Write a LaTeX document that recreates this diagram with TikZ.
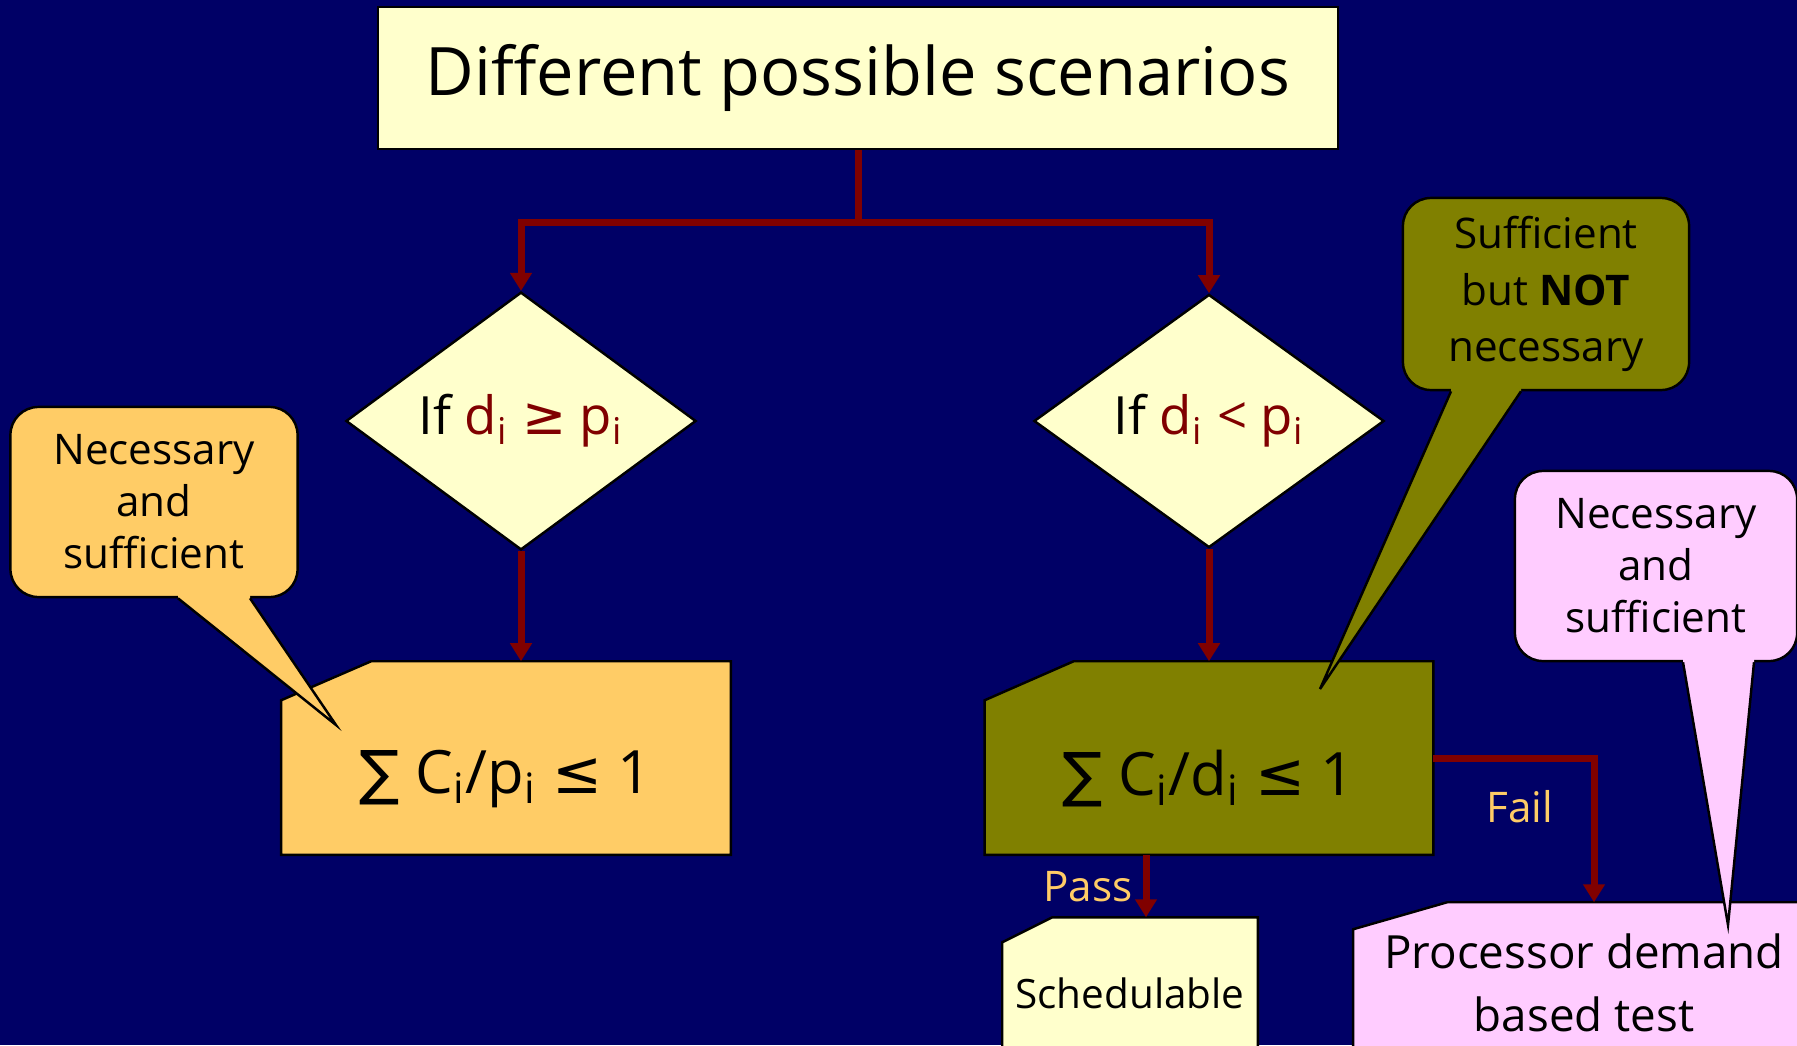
\documentclass[tikz,border=0pt]{standalone}
\usepackage{fontspec}
\setmainfont{Open Sans}
\newfontfamily\symfont{DejaVu Sans}
\usetikzlibrary{shapes.geometric, positioning, calc, arrows.meta}
\definecolor{navy}{HTML}{000066}
\definecolor{darkred}{HTML}{800000}
\definecolor{paleyellow}{HTML}{FFFFCC}
\definecolor{boxorange}{HTML}{FFCC66}
\definecolor{boxolive}{HTML}{808000}
\definecolor{boxpink}{HTML}{FFCCFF}
\newcommand{\subi}{\textsubscript{i}}

\begin{document}
\begin{tikzpicture}[x=0.01cm, y=-0.01cm,
  box/.style={draw, line width=0.7pt, fill=paleyellow, inner sep=0pt},
  slot/.style={inner sep=0pt},
  decision/.style={diamond, draw, line width=0.7pt, fill=paleyellow, inner sep=0pt, minimum width=3.5cm, minimum height=2.53cm, font=\fontsize{15}{18}\selectfont},
  note/.style={draw, line width=0.7pt, rounded corners=0.28cm, inner sep=0pt, minimum width=2.87cm, minimum height=1.9cm, align=center, font=\fontsize{12}{14.8}\selectfont},
  formula/.style={font=\fontsize{17}{20}\selectfont},
  flow/.style={draw=darkred, line width=0.07cm, -{Triangle[length=0.18cm, width=0.21cm]}},
  tag/.style={text=boxorange, font=\fontsize{12}{14}\selectfont}]
  \fill[navy] (0,0) rectangle (1797,1045);
  \useasboundingbox (0,0) rectangle (1797,1045);
  \clip (0,0) rectangle (1797,1045);
  % level 0
  \node[box, minimum width=9.59cm, minimum height=1.42cm, font=\fontsize{19}{23}\selectfont] (title) at (858,78) {Different possible scenarios};
  % level 1
  \node[decision] (ldia) at (521,421) {If \textcolor{darkred}{d\subi\ {\symfont ≥} p\subi}};
  \node[decision] (rdia) at (1209,421) {If \textcolor{darkred}{d\subi\ < p\subi}};
  \draw[flow] (title.south) -- ++(0,72) -| (ldia.north);
  \draw[flow] (title.south) -- ++(0,72) -| (rdia.north);
  % level 2
  \node[slot, minimum width=4.48cm, minimum height=1.92cm] (lsum) at (506,758) {};
  \filldraw[fill=boxorange, line width=0.7pt] (lsum.south west) -- ($(lsum.north west)+(0,39)$) -- ($(lsum.north west)+(90,0)$) -- (lsum.north east) -- (lsum.south east) -- cycle;
  \node[formula] (lsumtxt) at ($(lsum.center)+(0,21)$) {{\symfont ∑} C\subi/p\subi\ {\symfont ≤} 1};
  \node[slot, minimum width=4.47cm, minimum height=1.92cm] (rsum) at (1209,758) {};
  \filldraw[fill=boxolive, line width=0.7pt] (rsum.south west) -- ($(rsum.north west)+(0,39)$) -- ($(rsum.north west)+(89,0)$) -- (rsum.north east) -- (rsum.south east) -- cycle;
  \node[formula] (rsumtxt) at ($(rsum.center)+(0,21)$) {{\symfont ∑} C\subi/d\subi\ {\symfont ≤} 1};
  \draw[flow] (ldia.south) -- (ldia.south |- lsum.north);
  \draw[flow] (rdia.south) -- (rdia.south |- rsum.north);
  % level 3
  \node[slot, minimum width=2.54cm, minimum height=1.5cm] (sched) at (1130,993) {};
  \filldraw[fill=paleyellow, line width=0.7pt] (sched.south west) -- ($(sched.north west)+(0,25)$) -- ($(sched.north west)+(50,0)$) -- (sched.north east) -- (sched.south east) -- cycle;
  \node[font=\fontsize{11.5}{14}\selectfont] (schedtxt) at (sched.center) {Schedulable};
  \node[slot, minimum width=4.8cm, minimum height=1.7cm] (proc) at (1594,988) {};
  \filldraw[fill=boxpink, line width=0.7pt] (proc.south west) -- ($(proc.north west)+(0,27)$) -- ($(proc.north west)+(94,0)$) -- (proc.north east) -- (proc.south east) -- cycle;
  \node[align=center, font=\fontsize{13}{18}\selectfont] (proctxt) at ($(proc.center)+(-10,-5)$) {Processor demand\\based test};
  \coordinate (passtop) at ($(sched.north)+(16,0)$);
  \draw[flow] (rsum.south -| passtop) -- (passtop);
  \node[tag] (pass) at (1088,887) {Pass};
  \draw[flow] (rsum.east) -| (proc.north);
  \node[tag] (fail) at (1520,807) {Fail};
  % callouts
  \node[note, fill=boxorange] (lnote) at (154,502) {Necessary\\and\\sufficient};
  \coordinate (ltip) at (336,725);
  \fill[boxorange] ($(lnote.south)+(24,-6)$) -- ($(lnote.south)+(24,0)$) -- (ltip) -- ($(lnote.south)+(96,0)$) -- ($(lnote.south)+(96,-6)$) -- cycle;
  \draw[line width=0.7pt] ($(lnote.south)+(24,0)$) -- (ltip) -- ($(lnote.south)+(96,0)$);
  \node[note, fill=boxolive, minimum width=2.86cm, minimum height=1.92cm, font=\fontsize{12}{16}\selectfont] (rnote) at (1546,294) {Sufficient\\but \textbf{NOT}\\necessary};
  \coordinate (rtip) at (1320,689);
  \fill[boxolive] ($(rnote.south)+(-95,-6)$) -- ($(rnote.south)+(-95,0)$) -- (rtip) -- ($(rnote.south)+(-25,0)$) -- ($(rnote.south)+(-25,-6)$) -- cycle;
  \draw[line width=0.7pt] ($(rnote.south)+(-95,0)$) -- (rtip) -- ($(rnote.south)+(-25,0)$);
  \node[note, fill=boxpink, minimum width=2.82cm] (pnote) at (1656,566) {Necessary\\and\\sufficient};
  \coordinate (ptip) at (1728,925);
  \fill[boxpink] ($(pnote.south)+(27,-6)$) -- ($(pnote.south)+(27,0)$) -- (ptip) -- ($(pnote.south)+(98,0)$) -- ($(pnote.south)+(98,-6)$) -- cycle;
  \draw[line width=0.7pt] ($(pnote.south)+(27,0)$) -- (ptip) -- ($(pnote.south)+(98,0)$);
\end{tikzpicture}
\end{document}
